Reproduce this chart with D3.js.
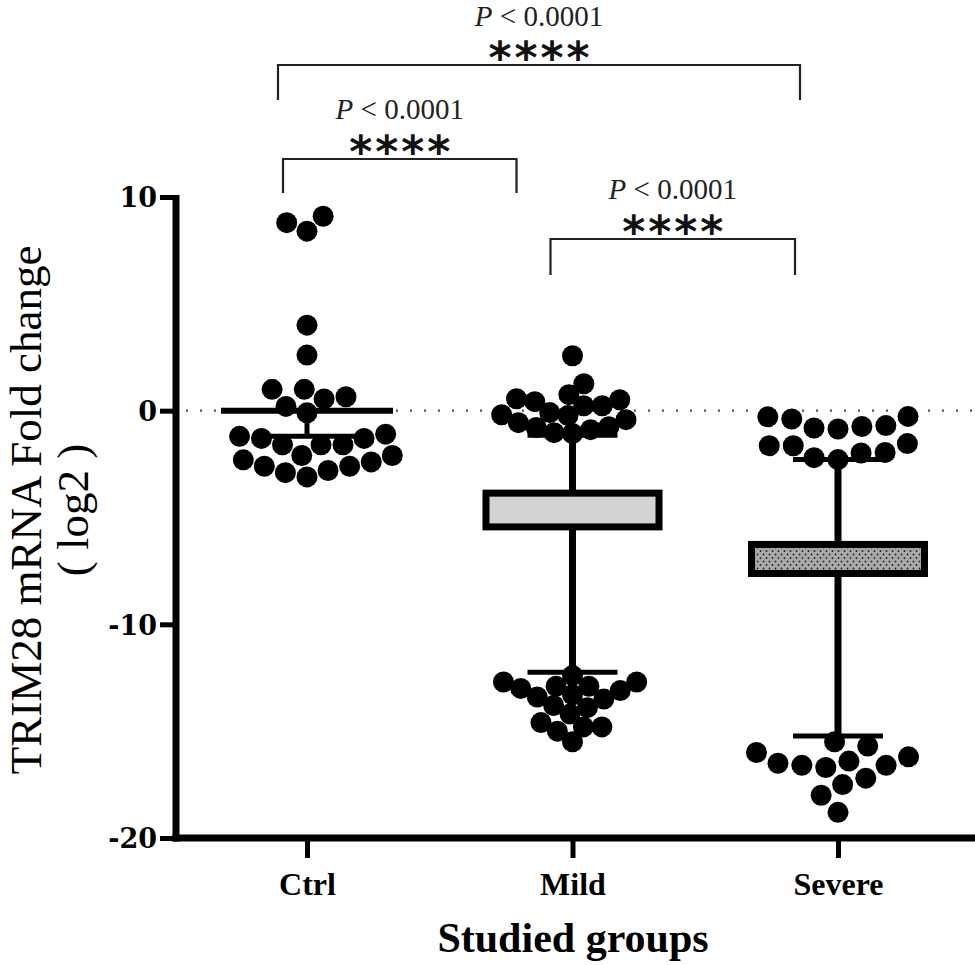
<!DOCTYPE html>
<html>
<head>
<meta charset="utf-8">
<script src="https://cdn.jsdelivr.net/npm/d3@7"></script>
<style>
  html, body { margin: 0; padding: 0; background: #fff; }
  svg { display: block; }
</style>
</head>
<body>
<svg id="chart" width="975" height="965"></svg>
<script>
// ---------------- data ----------------
const categories = ["Ctrl", "Mild", "Severe"];
const ctrlValues = [9.1, 8.8, 8.4, 4.0, 2.6, 1.0, 1.0, 0.65, 0.55, 0.2, -0.1,
  -1.1, -1.2, -1.3, -1.3, -1.6, -1.6, -1.6,
  -2.1, -2.1, -2.3, -2.4, -2.6, -2.6, -2.8, -2.9, -3.1];
const mildValues = [2.57, 1.26, 0.75, 0.56, 0.51, 0.42, 0.23, 0.23, -0.09, -0.19,
  -0.23, -0.42, -0.56, -0.75, -0.79, -0.89, -1.03, -1.07,
  -12.4, -12.7, -12.7, -12.9, -12.9, -13.0, -13.1, -13.3, -13.4, -13.5,
  -13.8, -13.9, -14.2, -14.6, -14.8, -14.8, -15.0, -15.5];
const severeValues = [-0.27, -0.29, -0.39, -0.70, -0.74, -0.81, -0.86,
  -1.54, -1.64, -1.64, -1.96, -1.98, -2.2, -2.29,
  -15.5, -15.7, -16.0, -16.2, -16.4, -16.5, -16.6, -16.6, -16.7,
  -17.2, -17.5, -18.0, -18.8];
const yTicks = [10, 0, -10, -20];

// Ctrl: mean with lower error bar
const ctrlMean = [0];
const ctrlErrLow = [-1.2];

// Mild / Severe: box + whiskers
const boxGroups = ["Mild", "Severe"];
const boxLow = [-5.44, -7.62];
const boxHigh = [-3.86, -6.26];
const whiskerLow = [-12.24, -15.23];
const whiskerHigh = [-1.15, -2.29];
const boxFills = ["#d3d3d3", "url(#dots)"];

// significance comparisons
const compFrom = ["Ctrl", "Ctrl", "Mild"];
const compTo = ["Severe", "Mild", "Severe"];
const compP = ["P < 0.0001", "P < 0.0001", "P < 0.0001"];
const compStars = ["****", "****", "****"];

// ---------------- layout ----------------
const svg = d3.select("#chart");
const axisX = 176, axisRight = 975;
const y = d3.scaleLinear().domain([-20, 10]).range([838, 197]);
const x = d3.scalePoint().domain(categories).range([307, 838]);
const swarmSpacing = [22, 18.5, 24];

// dotted zero line
svg.append("line")
  .attr("x1", axisX + 10).attr("x2", axisRight)
  .attr("y1", y(0)).attr("y2", y(0))
  .attr("stroke", "#555").attr("stroke-width", 2.2)
  .attr("stroke-dasharray", "2,12");

// pattern for severe box
const defs = svg.append("defs");
const pat = defs.append("pattern").attr("id", "dots")
  .attr("width", 6).attr("height", 7).attr("patternUnits", "userSpaceOnUse");
pat.append("rect").attr("width", 6).attr("height", 7).attr("fill", "#a9a9a9");
pat.append("circle").attr("cx", 1.5).attr("cy", 1.5).attr("r", 0.9).attr("fill", "#222");
pat.append("circle").attr("cx", 4.5).attr("cy", 5).attr("r", 0.9).attr("fill", "#222");

// whiskers + boxes
const boxW = 180, capW = 90;
boxGroups.forEach((g, i) => {
  const cx = x(g);
  svg.append("line").attr("x1", cx).attr("x2", cx)
    .attr("y1", y(whiskerHigh[i])).attr("y2", y(whiskerLow[i]))
    .attr("stroke", "#000").attr("stroke-width", 7);
  [whiskerHigh[i], whiskerLow[i]].forEach(v => {
    svg.append("line").attr("x1", cx - capW / 2).attr("x2", cx + capW / 2)
      .attr("y1", y(v)).attr("y2", y(v))
      .attr("stroke", "#000").attr("stroke-width", 5);
  });
  svg.append("rect")
    .attr("x", cx - boxW / 2 + 3.5).attr("width", boxW - 7)
    .attr("y", y(boxHigh[i])).attr("height", y(boxLow[i]) - y(boxHigh[i]))
    .attr("fill", boxFills[i]).attr("stroke", "#000").attr("stroke-width", 7);
});

// swarm layout
function swarm(values, cx, diam) {
  const pts = values.map(v => ({ v, y: y(v) })).sort((a, b) => b.y - a.y);
  const placed = [];
  for (const p of pts) {
    const cands = [0];
    for (const q of placed) {
      const dy = Math.abs(q.y - p.y);
      if (dy < diam) {
        const dx = Math.sqrt(diam * diam - dy * dy);
        cands.push(q.x - dx - 0.01, q.x + dx + 0.01);
      }
    }
    cands.sort((a, b) => Math.abs(a) - Math.abs(b));
    for (const c of cands) {
      if (placed.every(q => (q.x - c) ** 2 + (q.y - p.y) ** 2 >= diam * diam - 0.5)) {
        p.x = c; break;
      }
    }
    placed.push(p);
  }
  return placed.map(p => ({ cx: cx + p.x, cy: p.y }));
}

const groupValues = [ctrlValues, mildValues, severeValues];
categories.forEach((c, i) => {
  const pts = swarm(groupValues[i], x(c), swarmSpacing[i]);
  svg.append("g").selectAll("circle").data(pts).join("circle")
    .attr("cx", d => d.cx).attr("cy", d => d.cy).attr("r", 10.5)
    .attr("fill", "#000");
});

// Ctrl mean + error bar
{
  const cx = x("Ctrl");
  svg.append("line").attr("x1", cx).attr("x2", cx)
    .attr("y1", y(ctrlMean[0])).attr("y2", y(ctrlErrLow[0]))
    .attr("stroke", "#000").attr("stroke-width", 5);
  svg.append("line").attr("x1", cx - 50).attr("x2", cx + 50)
    .attr("y1", y(ctrlErrLow[0])).attr("y2", y(ctrlErrLow[0]))
    .attr("stroke", "#000").attr("stroke-width", 5);
  svg.append("line").attr("x1", cx - 86).attr("x2", cx + 86)
    .attr("y1", y(ctrlMean[0])).attr("y2", y(ctrlMean[0]))
    .attr("stroke", "#000").attr("stroke-width", 6);
}

// axes
const yAxis = d3.axisLeft(y).tickValues(yTicks).tickSize(16).tickPadding(3).tickFormat(d => String(d));
const gy = svg.append("g").attr("transform", `translate(${axisX},0)`).call(yAxis);
gy.select(".domain").remove();
gy.selectAll(".tick line").attr("stroke", "#000").attr("stroke-width", 5);
gy.selectAll(".tick text")
  .attr("font-family", "DejaVu Serif").attr("font-weight", "bold")
  .attr("font-size", 27).attr("fill", "#000").attr("dy", "0.36em");
svg.append("line").attr("x1", axisX).attr("x2", axisX)
  .attr("y1", y(10) - 2).attr("y2", y(-20) + 3.5)
  .attr("stroke", "#000").attr("stroke-width", 7);

const xAxis = d3.axisBottom(x).tickSize(20).tickPadding(14);
const gx = svg.append("g").attr("transform", `translate(0,${y(-20)})`).call(xAxis);
gx.select(".domain").remove();
gx.selectAll(".tick line").attr("stroke", "#000").attr("stroke-width", 5);
gx.selectAll(".tick text")
  .attr("font-family", "Liberation Serif").attr("font-weight", "bold")
  .attr("font-size", 32).attr("fill", "#000");
svg.append("line").attr("x1", axisX - 3.5).attr("x2", axisRight)
  .attr("y1", y(-20)).attr("y2", y(-20))
  .attr("stroke", "#000").attr("stroke-width", 7);

// axis titles
svg.append("text").attr("x", 573).attr("y", 952)
  .attr("text-anchor", "middle")
  .attr("font-family", "Liberation Serif").attr("font-weight", "bold")
  .attr("font-size", 42).text("Studied groups");

const yt = svg.append("text")
  .attr("transform", "translate(0,510) rotate(-90)")
  .attr("text-anchor", "middle")
  .attr("font-family", "Liberation Serif").attr("font-size", 45);
yt.append("tspan").attr("x", 0).attr("y", 41).text("TRIM28 mRNA Fold change");
yt.append("tspan").attr("x", 0).attr("y", 88).text("( log2 )");

// significance brackets (layout: bracket level, leg bottom, left/right offsets)
const bracketY = [65, 159, 239];
const legBottom = [100, 193, 275];
const pBaseline = [26, 119, 199];
const leftOff = [-29, -24, -22];
const rightOff = [-38, -56, -43];
compFrom.forEach((f, i) => {
  const x1 = x(f) + leftOff[i], x2 = x(compTo[i]) + rightOff[i];
  const by = bracketY[i];
  svg.append("path")
    .attr("d", `M${x1},${legBottom[i]}V${by}H${x2}V${legBottom[i]}`)
    .attr("fill", "none").attr("stroke", "#222").attr("stroke-width", 2.2);
  const mx = (x1 + x2) / 2;
  const pt = svg.append("text").attr("x", mx).attr("y", pBaseline[i])
    .attr("text-anchor", "middle")
    .attr("font-family", "Liberation Serif").attr("font-size", 29).attr("fill", "#222");
  const parts = compP[i].split(" ");
  pt.append("tspan").attr("font-style", "italic").text(parts[0]);
  pt.append("tspan").text(" " + parts.slice(1).join(" "));
  svg.append("text").attr("x", mx + 1.5).attr("y", by + 8)
    .attr("text-anchor", "middle")
    .attr("font-family", "DejaVu Sans").attr("font-weight", "bold")
    .attr("font-size", 44).attr("letter-spacing", 3)
    .attr("fill", "#111").text(compStars[i]);
});
</script>
</body>
</html>
